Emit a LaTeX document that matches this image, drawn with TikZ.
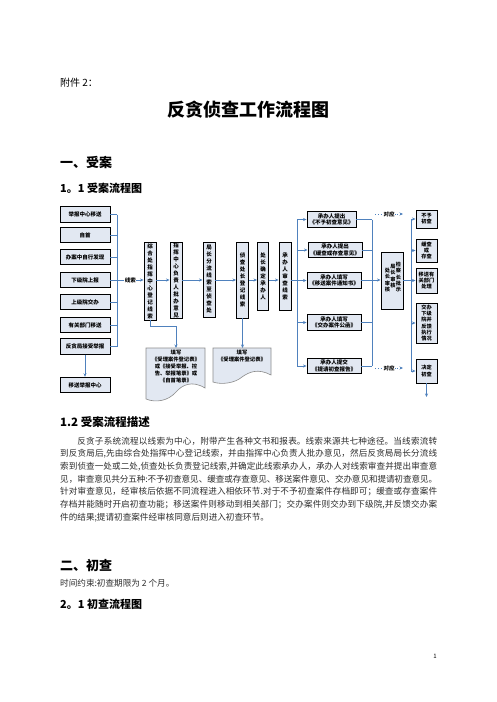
\documentclass[tikz,border=0pt]{standalone}
\usepackage{fontspec}
\setmainfont{Noto Sans CJK SC}
\usetikzlibrary{arrows.meta}
\XeTeXlinebreaklocale "zh"
\XeTeXlinebreakskip=0pt plus 1pt minus 0.3pt
\definecolor{boxfill}{RGB}{226,232,242}
\definecolor{lnc}{RGB}{79,129,189}
\definecolor{docln}{RGB}{140,140,140}
\definecolor{txt}{RGB}{45,45,45}
\begin{document}
\begin{tikzpicture}[x=1pt,y=-1pt,
  box/.style={draw=black,line width=0.9pt,fill=boxfill,inner sep=0pt,align=center,font=\fontsize{5.5}{6.6}\selectfont\bfseries},
  lbox/.style={box,minimum width=50pt,minimum height=15.5pt},
  vbox/.style={box,minimum width=12pt,font=\fontsize{5.5}{7}\selectfont\bfseries},
  rbox/.style={box,minimum width=54pt,minimum height=15.5pt},
  fbox/.style={box,minimum width=21pt,font=\fontsize{5.2}{6.2}\selectfont\bfseries},
  vtxt/.style={inner sep=0pt,align=center,font=\fontsize{5.2}{6.4}\selectfont\bfseries},
  conn/.style={draw=lnc,line width=0.8pt},
  arr/.style={conn,-{Stealth[length=3.5pt,width=3pt]}},
  dotarr/.style={conn,dotted,-{Stealth[length=3.5pt,width=3pt]}},
  docst/.style={draw=docln,line width=0.6pt,fill=boxfill},
  doctxt/.style={inner sep=0pt,align=center,font=\fontsize{5.3}{7}\selectfont\bfseries},
  lbl/.style={fill=white,inner sep=0.6pt,font=\fontsize{5.5}{6}\selectfont\bfseries},
  head/.style={anchor=west,inner sep=0pt,text=black}]
\useasboundingbox[fill=white] (0,0) rectangle (496,702);

% headings
\node[head,font=\fontsize{10}{12}\selectfont] (h0) at (60,83) {附件 2：};
\node[inner sep=0pt,font=\fontsize{18}{20}\selectfont\bfseries] (h1) at (248,110) {反贪侦查工作流程图};
\node[head,font=\fontsize{13}{15}\selectfont\bfseries] (h2) at (60,162) {一、受案};
\node[head,font=\fontsize{11}{13}\selectfont\bfseries] (h3) at (60,188) {1。1 受案流程图};

% left source boxes
\node[lbox] (L1) at (85,214.5) {举报中心移送};
\node[lbox] (L2) at (85,235) {自首};
\node[lbox] (L3) at (85,257) {办案中自行发现};
\node[lbox] (L4) at (85,280) {下级院上报};
\node[lbox] (L5) at (85,302) {上级院交办};
\node[lbox] (L6) at (85,325) {有关部门移送};
\node[lbox] (L7) at (85,346.5) {反贪局接受举报};
\node[lbox] (L8) at (85,385) {移送举报中心};
\coordinate (cx) at (117,280);
\foreach \n in {L1,L2,L3,L4,L5,L6,L7} \draw[conn] (\n.east) -- (\n.east -| cx);
\draw[conn] (L1.east -| cx) -- (L7.east -| cx);
\draw[arr] (L7.south) -- (L8.north);

% vertical boxes
\node[vbox,minimum height=78pt] (V1) at (150,281) {综\\合\\处\\指\\挥\\中\\心\\登\\记\\线\\索};
\node[vbox,minimum height=75pt] (V2) at (176,280.5) {指\\挥\\中\\心\\负\\责\\人\\批\\办\\意\\见};
\node[vbox,minimum height=75pt] (V3) at (209,279.5) {局\\长\\分\\流\\线\\索\\至\\侦\\查\\处};
\node[vbox,minimum height=76pt] (V4) at (242.5,280) {侦\\查\\处\\长\\登\\记\\线\\索};
\node[vbox,minimum height=68pt,minimum width=11pt] (V5) at (263,276) {处\\长\\确\\定\\承\\办\\人};
\node[vbox,minimum height=68pt] (V6) at (285,276) {承\\办\\人\\审\\查\\线\\索};
\draw[arr] (cx) -- node[lbl] {线索} (V1.west |- cx);
\draw[arr] (V1.east |- cx) -- (V2.west |- cx);
\draw[arr] (V2.east |- cx) -- (V3.west |- cx);
\draw[arr] (V3.east |- cx) -- (V4.west |- cx);
\draw[arr] (V4.east |- cx) -- (V5.west |- cx);
\draw[arr] (V5.east |- cx) -- (V6.west |- cx);

% documents
\draw[docst] (146,348) -- (205,348) -- (205,388) .. controls (192,380) and (182,385) .. (176,392) .. controls (168,401) and (156,403) .. (146,399) -- cycle;
\draw[docst] (213,348) -- (271,348) -- (271,375) .. controls (258,368) and (249,372) .. (242,377) .. controls (235,383) and (222,385) .. (213,382) -- cycle;
\coordinate (D1t) at (176,348);
\coordinate (D2t) at (242.5,348);
\node[doctxt,anchor=north] (D1) at (176,350) {填写\\《受理案件登记表》\\或《接受举报、控\\告、举报笔录》或\\《自首笔录》};
\node[doctxt,anchor=north] (D2) at (242,350) {填写\\《受理案件登记表》};
\draw[arr] (V1.south) -- (150,326) -| (D1t);
\draw[arr] (V4.south) -- (D2t);

% distributor to proposal boxes
\coordinate (dx) at (297,280);
\draw[conn] (V6.east |- cx) -- (dx);
\node[rbox,minimum width=49pt] (R1) at (331.5,219.5) {承办人提出\\《不予初查意见》};
\node[rbox] (R2) at (335,250) {承办人提出\\《缓查或存查意见》};
\node[rbox] (R3) at (334,280.5) {承办人填写\\《移送案件通知书》};
\node[rbox] (R4) at (334,322.5) {承办人填写\\《交办案件公函》};
\node[rbox] (R5) at (334,366) {承办人提交\\《提请初查报告》};
\draw[conn] (R1.west -| dx) -- (R5.west -| dx);
\foreach \n in {R1,R2,R3,R4,R5} \draw[arr] (\n.west -| dx) -- (\n.west);
\coordinate (ex) at (372,280);
\foreach \n in {R1,R2,R3,R4,R5} \draw[conn] (\n.east) -- (\n.east -| ex);
\draw[conn] (R1.east -| ex) -- (R5.east -| ex);

% approval box
\node[box,minimum width=22pt,minimum height=57pt] (K) at (392,280.5) {};
\node[vtxt] (K1) at (387.5,280) {处\\长\\审\\核};
\node[vtxt] (K2) at (393,276) {局\\长\\审\\核};
\node[vtxt] (K3) at (398.5,277) {检\\察\\长\\批\\示};
\draw[arr] (ex) -- (K.west |- ex);

% final boxes
\coordinate (fx) at (411,280);
\node[fbox,minimum height=18pt] (F1) at (426.5,219) {不予\\初查};
\node[fbox,minimum height=23pt] (F2) at (426.5,250.5) {缓查\\或\\存查};
\node[fbox,minimum height=25pt] (F3) at (426.5,280.5) {移送有\\关部门\\处理};
\node[fbox,minimum height=40pt] (F4) at (426.5,323) {交办\\下级\\院并\\反馈\\执行\\情况};
\node[fbox,minimum height=24pt] (F5) at (426.5,371) {决定\\初查};
\draw[conn] (K.east |- fx) -- (fx);
\draw[conn] (fx |- F1.west) -- (fx |- F5.west);
\foreach \n in {F1,F2,F3,F4,F5} \draw[arr] (fx |- \n.west) -- (\n.west);
\coordinate (Fend) at (426.5,397);
\draw[arr] (F5.south) -- (Fend);

% correspondence dotted arrows
\coordinate (c1a) at (375,214);
\coordinate (c1b) at (403,214);
\coordinate (c2a) at (375,368);
\coordinate (c2b) at (403,368);
\draw[dotarr] (c1a) -- node[lbl] {对应} (c1b);
\draw[dotarr] (c2a) -- node[lbl] {对应} (c2b);

% description
\node[head,font=\fontsize{11.5}{13}\selectfont\bfseries] (h4) at (60,422) {1.2 受案流程描述};
\node[anchor=north west,inner sep=0pt,text width=377pt,align=justify,text=txt,
  font=\fontsize{8.6}{12.7}\selectfont] (P) at (60,436.5) {\hspace*{17.2pt}反贪子系统流程以线索为中心，附带产生各种文书和报表。线索来源共七种途径。当线索流转\linebreak
到反贪局后,先由综合处指挥中心登记线索，并由指挥中心负责人批办意见，然后反贪局局长分流线\linebreak
索到侦查一处或二处,侦查处长负责登记线索,并确定此线索承办人，承办人对线索审查并提出审查意\linebreak
见，审查意见共分五种:不予初查意见、缓查或存查意见、移送案件意见、交办意见和提请初查意见。\linebreak
针对审查意见，经审核后依据不同流程进入相依环节.对于不予初查案件存档即可；缓查或存查案件\linebreak
存档并能随时开启初查功能；移送案件则移动到相关部门；交办案件则交办到下级院,并反馈交办案\linebreak
件的结果;提请初查案件经审核同意后则进入初查环节。};

\node[head,font=\fontsize{13}{15}\selectfont\bfseries] (h5) at (60,565) {二、初查};
\node[head,text=txt,font=\fontsize{8.6}{10}\selectfont] (h6) at (60,583) {时间约束:初查期限为 2 个月。};
\node[head,font=\fontsize{11}{13}\selectfont\bfseries] (h7) at (60,604) {2。1 初查流程图};
\node[inner sep=0pt,font=\fontsize{6}{7}\selectfont] (pg) at (435,656) {1};
\end{tikzpicture}
\end{document}
